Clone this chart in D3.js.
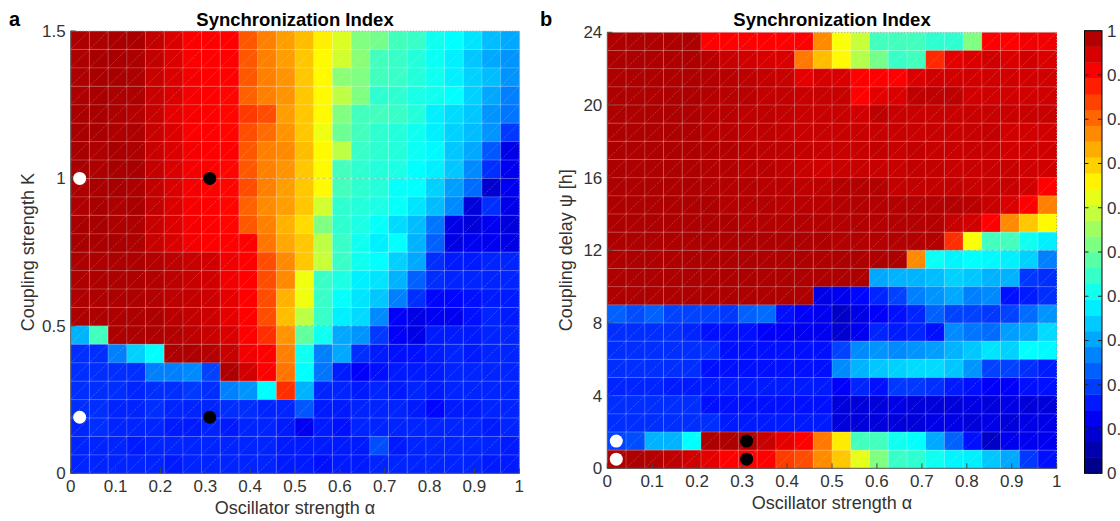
<!DOCTYPE html>
<html><head><meta charset="utf-8">
<script src="https://cdn.jsdelivr.net/npm/d3@7"></script>
<style>
body{margin:0;background:#fff;overflow:hidden}
svg{display:block;font-family:"Liberation Sans",Arial,Helvetica,sans-serif}
</style></head><body>
<svg id="chart" width="1120" height="521"></svg>
<script>
// ---- axis ticks ----
const alphaTicks = [0,0.1,0.2,0.3,0.4,0.5,0.6,0.7,0.8,0.9,1];
const alphaTickLabels = ["0","0.1","0.2","0.3","0.4","0.5","0.6","0.7","0.8","0.9","1"];
const kTicks = [0,0.5,1,1.5];
const kTickLabels = ["0","0.5","1","1.5"];
const psiTicks = [0,4,8,12,16,20,24];
const psiTickLabels = ["0","4","8","12","16","20","24"];
const cbTicks = [0,0.1,0.2,0.3,0.4,0.5,0.6,0.7,0.8,0.9,1];
const cbTickLabels = ["0","0.1","0.2","0.3","0.4","0.5","0.6","0.7","0.8","0.9","1"];

// ---- grid sizes ----
const nAlpha = 24;      // oscillator strength cells over [0, 1]
const kMax = 1.5, nK = 24;
const psiMax = 24, nPsi = 24;

// ---- panel a: synchronization index, rows from K = 1.5 (top) down to K = 0 ----
const syncA = [
 [0.955,0.955,0.96,0.96,0.935,0.91,0.88,0.875,0.875,0.79,0.75,0.72, 0.69,0.64,0.59,0.50,0.49,0.44,0.43,0.39,0.375,0.35,0.31,0.29],
 [0.955,0.96,0.96,0.955,0.935,0.91,0.88,0.875,0.875,0.79,0.75,0.72, 0.68,0.63,0.58,0.51,0.44,0.43,0.41,0.385,0.36,0.32,0.29,0.27],
 [0.955,0.96,0.96,0.955,0.93,0.91,0.885,0.875,0.875,0.79,0.75,0.73, 0.68,0.63,0.51,0.50,0.44,0.43,0.41,0.39,0.36,0.33,0.31,0.27],
 [0.955,0.96,0.955,0.955,0.93,0.91,0.885,0.875,0.87,0.78,0.75,0.73, 0.68,0.63,0.56,0.50,0.42,0.42,0.40,0.39,0.375,0.33,0.29,0.25],
 [0.96,0.96,0.955,0.95,0.93,0.90,0.885,0.875,0.87,0.82,0.80,0.72, 0.68,0.63,0.50,0.44,0.44,0.43,0.41,0.36,0.34,0.32,0.27,0.24],
 [0.96,0.96,0.955,0.955,0.93,0.91,0.88,0.875,0.87,0.80,0.77,0.73, 0.68,0.61,0.48,0.44,0.42,0.41,0.39,0.36,0.33,0.31,0.27,0.18],
 [0.96,0.955,0.96,0.955,0.93,0.91,0.885,0.875,0.875,0.79,0.75,0.74, 0.69,0.63,0.56,0.43,0.42,0.41,0.385,0.37,0.32,0.29,0.21,0.10],
 [0.96,0.955,0.96,0.96,0.935,0.91,0.885,0.875,0.87,0.79,0.75,0.73, 0.68,0.63,0.44,0.42,0.41,0.40,0.375,0.36,0.32,0.26,0.17,0.11],
 [0.955,0.96,0.96,0.955,0.935,0.91,0.885,0.875,0.87,0.80,0.75,0.72, 0.68,0.63,0.44,0.42,0.41,0.38,0.375,0.33,0.28,0.23,0.08,0.11],
 [0.955,0.96,0.955,0.96,0.935,0.91,0.885,0.875,0.87,0.78,0.74,0.72, 0.68,0.58,0.42,0.41,0.40,0.38,0.35,0.31,0.26,0.09,0.17,0.10],
 [0.96,0.96,0.955,0.955,0.93,0.91,0.885,0.875,0.87,0.79,0.75,0.70, 0.66,0.50,0.42,0.40,0.38,0.34,0.31,0.24,0.10,0.09,0.11,0.09],
 [0.96,0.96,0.96,0.955,0.93,0.91,0.885,0.875,0.875,0.875,0.76,0.71, 0.68,0.56,0.43,0.39,0.36,0.375,0.30,0.22,0.10,0.11,0.11,0.10],
 [0.955,0.955,0.955,0.955,0.95,0.94,0.93,0.92,0.89,0.875,0.80,0.74, 0.68,0.57,0.43,0.39,0.375,0.33,0.29,0.17,0.15,0.15,0.16,0.16],
 [0.955,0.955,0.955,0.955,0.95,0.94,0.93,0.92,0.89,0.875,0.80,0.74, 0.61,0.43,0.40,0.36,0.35,0.30,0.22,0.17,0.16,0.16,0.16,0.16],
 [0.955,0.955,0.955,0.955,0.95,0.94,0.935,0.925,0.90,0.875,0.80,0.70, 0.61,0.43,0.38,0.35,0.32,0.25,0.17,0.13,0.13,0.14,0.15,0.15],
 [0.955,0.955,0.955,0.955,0.955,0.945,0.935,0.925,0.90,0.875,0.80,0.69, 0.56,0.43,0.36,0.34,0.26,0.12,0.10,0.11,0.11,0.14,0.16,0.15],
 [0.30,0.44,0.955,0.955,0.955,0.95,0.94,0.93,0.91,0.875,0.83,0.73, 0.47,0.39,0.29,0.27,0.18,0.12,0.10,0.15,0.15,0.15,0.16,0.16],
 [0.17,0.17,0.25,0.33,0.375,0.955,0.955,0.95,0.93,0.89,0.875,0.75, 0.39,0.25,0.29,0.17,0.15,0.14,0.14,0.15,0.16,0.15,0.16,0.16],
 [0.17,0.17,0.17,0.17,0.25,0.25,0.26,0.19,0.955,0.92,0.875,0.76, 0.375,0.24,0.15,0.12,0.14,0.15,0.15,0.15,0.16,0.16,0.16,0.16],
 [0.17,0.17,0.17,0.16,0.17,0.17,0.18,0.17,0.25,0.27,0.375,0.83, 0.30,0.16,0.16,0.15,0.16,0.15,0.16,0.15,0.16,0.16,0.16,0.16],
 [0.17,0.17,0.16,0.16,0.17,0.16,0.16,0.16,0.17,0.17,0.16,0.16, 0.21,0.15,0.15,0.16,0.16,0.16,0.15,0.13,0.15,0.15,0.16,0.16],
 [0.16,0.17,0.16,0.16,0.16,0.15,0.15,0.16,0.15,0.16,0.16,0.15, 0.11,0.15,0.14,0.16,0.16,0.16,0.16,0.16,0.16,0.16,0.15,0.16],
 [0.16,0.16,0.16,0.15,0.16,0.16,0.16,0.16,0.16,0.16,0.16,0.15, 0.15,0.15,0.15,0.15,0.20,0.15,0.16,0.16,0.16,0.16,0.16,0.15],
 [0.16,0.16,0.16,0.16,0.16,0.15,0.16,0.16,0.16,0.16,0.16,0.15, 0.15,0.14,0.15,0.15,0.16,0.16,0.16,0.16,0.16,0.16,0.15,0.15]
];

// ---- panel b: synchronization index, rows from psi = 24 h (top) down to psi = 0 ----
const syncB = [
 [0.955,0.955,0.955,0.955,0.955,0.875,0.875,0.875,0.875,0.875,0.875,0.74, 0.62,0.57,0.44,0.44,0.44,0.42,0.42,0.50,0.875,0.875,0.89,0.89],
 [0.955,0.955,0.955,0.955,0.955,0.944,0.93,0.92,0.915,0.91,0.757,0.69, 0.63,0.55,0.49,0.43,0.44,0.836,0.90,0.91,0.92,0.91,0.92,0.91],
 [0.955,0.955,0.955,0.955,0.955,0.95,0.945,0.94,0.935,0.93,0.90,0.915, 0.91,0.875,0.875,0.875,0.91,0.92,0.92,0.92,0.92,0.92,0.92,0.92],
 [0.955,0.955,0.955,0.955,0.955,0.95,0.945,0.945,0.935,0.935,0.93,0.93, 0.93,0.875,0.90,0.91,0.94,0.94,0.94,0.92,0.92,0.92,0.92,0.92],
 [0.955,0.955,0.955,0.955,0.955,0.945,0.945,0.94,0.94,0.935,0.93,0.93, 0.93,0.92,0.94,0.93,0.93,0.93,0.93,0.93,0.93,0.93,0.93,0.93],
 [0.955,0.955,0.955,0.955,0.955,0.945,0.945,0.94,0.94,0.935,0.93,0.93, 0.93,0.93,0.93,0.93,0.93,0.93,0.93,0.93,0.935,0.92,0.92,0.92],
 [0.955,0.955,0.955,0.955,0.955,0.95,0.95,0.945,0.94,0.94,0.935,0.93, 0.93,0.93,0.935,0.93,0.935,0.93,0.93,0.93,0.93,0.92,0.92,0.92],
 [0.955,0.955,0.955,0.955,0.955,0.95,0.95,0.945,0.945,0.94,0.93,0.92, 0.93,0.93,0.93,0.93,0.935,0.935,0.93,0.93,0.93,0.93,0.92,0.92],
 [0.955,0.955,0.955,0.955,0.955,0.95,0.95,0.95,0.945,0.945,0.94,0.94, 0.95,0.95,0.95,0.935,0.935,0.935,0.935,0.93,0.93,0.93,0.92,0.875],
 [0.955,0.955,0.955,0.955,0.955,0.955,0.95,0.95,0.95,0.945,0.945,0.945, 0.95,0.95,0.95,0.95,0.95,0.95,0.95,0.945,0.93,0.91,0.875,0.75],
 [0.955,0.955,0.955,0.955,0.955,0.955,0.955,0.95,0.95,0.95,0.95,0.95, 0.95,0.95,0.95,0.95,0.95,0.95,0.93,0.92,0.875,0.74,0.68,0.63],
 [0.955,0.955,0.955,0.955,0.955,0.955,0.955,0.955,0.955,0.955,0.955,0.955, 0.95,0.95,0.95,0.95,0.95,0.95,0.83,0.62,0.44,0.44,0.39,0.36],
 [0.955,0.955,0.955,0.955,0.955,0.955,0.955,0.955,0.955,0.955,0.955,0.955, 0.955,0.955,0.955,0.955,0.74,0.385,0.365,0.375,0.37,0.36,0.33,0.25],
 [0.955,0.955,0.955,0.955,0.955,0.955,0.955,0.955,0.955,0.955,0.955,0.955, 0.955,0.955,0.29,0.30,0.30,0.31,0.33,0.32,0.30,0.30,0.18,0.17],
 [0.955,0.955,0.955,0.955,0.955,0.955,0.955,0.955,0.955,0.955,0.955,0.10, 0.11,0.13,0.16,0.19,0.25,0.27,0.29,0.25,0.26,0.14,0.15,0.17],
 [0.22,0.20,0.22,0.19,0.19,0.19,0.18,0.22,0.23,0.14,0.12,0.11, 0.07,0.10,0.12,0.14,0.16,0.22,0.19,0.19,0.18,0.19,0.23,0.27],
 [0.17,0.17,0.17,0.17,0.16,0.14,0.14,0.14,0.12,0.12,0.11,0.11, 0.08,0.11,0.16,0.15,0.16,0.14,0.26,0.24,0.23,0.28,0.29,0.34],
 [0.17,0.17,0.17,0.17,0.17,0.17,0.14,0.14,0.14,0.14,0.14,0.14, 0.19,0.26,0.27,0.26,0.27,0.28,0.30,0.32,0.35,0.33,0.375,0.37],
 [0.17,0.17,0.17,0.17,0.17,0.14,0.14,0.14,0.14,0.14,0.14,0.14, 0.26,0.30,0.32,0.33,0.34,0.34,0.32,0.27,0.19,0.19,0.17,0.15],
 [0.16,0.16,0.16,0.15,0.15,0.15,0.15,0.15,0.15,0.15,0.15,0.15, 0.12,0.16,0.14,0.18,0.18,0.17,0.15,0.14,0.12,0.12,0.14,0.14],
 [0.17,0.17,0.17,0.17,0.17,0.14,0.14,0.14,0.14,0.14,0.14,0.14, 0.09,0.09,0.09,0.10,0.09,0.09,0.09,0.10,0.09,0.10,0.09,0.09],
 [0.17,0.17,0.17,0.17,0.17,0.17,0.15,0.15,0.15,0.15,0.15,0.15, 0.09,0.09,0.09,0.09,0.09,0.10,0.10,0.09,0.10,0.09,0.10,0.10],
 [0.19,0.20,0.30,0.30,0.375,0.955,0.955,0.955,0.93,0.90,0.875,0.757, 0.645,0.44,0.44,0.39,0.375,0.29,0.22,0.14,0.07,0.11,0.11,0.11],
 [0.955,0.955,0.95,0.94,0.92,0.90,0.875,0.875,0.875,0.816,0.80,0.738, 0.68,0.60,0.50,0.43,0.42,0.39,0.365,0.36,0.32,0.29,0.18,0.14]
];

// ---- highlighted parameter points ----
const markerAlpha = [0.02, 0.31, 0.02, 0.31];
const markerK     = [1.0, 1.0, 0.19, 0.19];
const markerPsi   = [1.5, 1.5, 0.5, 0.5];
const markerFill  = ["#ffffff", "#000000", "#ffffff", "#000000"];

// MATLAB-style jet colormap
function jet(v) {
  v = Math.max(0, Math.min(1, v));
  const ch = c => Math.round(255 * Math.max(0, Math.min(1, 1.5 - Math.abs(4 * v - c))));
  return `rgb(${ch(3)},${ch(2)},${ch(1)})`;
}

const svg = d3.select("#chart");
const FONT = "'Liberation Sans', Arial, Helvetica, sans-serif";

function drawPanel(opts) {
  const { rows, left, right, top, bottom, yMax, nRows, yTicks, yTickLabels,
          markerY, title, letter, letterX, yLabel, yLabelX } = opts;
  const x = d3.scaleLinear().domain([0, 1]).range([left, right]);
  const y = d3.scaleLinear().domain([0, yMax]).range([bottom, top]);
  const g = svg.append("g");

  const cells = [];
  rows.forEach((row, t) => row.forEach((v, c) => {
    cells.push({
      a0: c / nAlpha, a1: (c + 1) / nAlpha,
      y1: yMax - t * yMax / nRows, y0: yMax - (t + 1) * yMax / nRows,
      v
    });
  }));

  // flat-coloured cells with faint white facet edges
  g.append("g").selectAll("rect").data(cells).join("rect")
    .attr("x", d => x(d.a0)).attr("y", d => y(d.y1))
    .attr("width", d => x(d.a1) - x(d.a0) + 0.3)
    .attr("height", d => y(d.y0) - y(d.y1) + 0.3)
    .attr("fill", d => jet(d.v));

  // mesh lines: cell borders and triangle diagonals
  const mesh = g.append("g").attr("fill", "none");
  mesh.selectAll("path.edge").data(cells).join("path")
    .attr("class", "edge")
    .attr("d", d => `M${x(d.a0)},${y(d.y0)}V${y(d.y1)}H${x(d.a1)}`)
    .attr("stroke", "rgba(255,255,255,0.28)").attr("stroke-width", 0.9);
  mesh.selectAll("path.diag").data(cells).join("path")
    .attr("class", "diag")
    .attr("d", d => `M${x(d.a0)},${y(d.y0)}L${x(d.a1)},${y(d.y1)}`)
    .attr("stroke", "rgba(255,255,255,0.38)").attr("stroke-width", 0.7)
    .attr("stroke-dasharray", "1.2,1.2");

  // dashed grid lines at the ticks
  const grid = g.append("g").attr("stroke", "rgba(90,90,90,0.35)")
    .attr("stroke-dasharray", "3,3").attr("stroke-width", 0.8);
  grid.selectAll("line.h").data(yTicks.slice(1, -1)).join("line")
    .attr("x1", left).attr("x2", right).attr("y1", d => y(d)).attr("y2", d => y(d));

  // frame: solid left/bottom axes, dotted top/right
  g.append("path").attr("d", `M${left},${top}H${right}V${bottom}`)
    .attr("fill", "none").attr("stroke", "#9a9a9a").attr("stroke-width", 1)
    .attr("stroke-dasharray", "1,2");
  g.append("path").attr("d", `M${left},${top}V${bottom}H${right}`)
    .attr("fill", "none").attr("stroke", "#555").attr("stroke-width", 1);

  // ticks pointing inward
  g.append("g").selectAll("line").data(yTicks).join("line")
    .attr("x1", left).attr("x2", left + 5).attr("y1", d => y(d)).attr("y2", d => y(d))
    .attr("stroke", "#444");
  g.append("g").selectAll("line").data(alphaTicks).join("line")
    .attr("x1", d => x(d)).attr("x2", d => x(d)).attr("y1", bottom).attr("y2", bottom - 5)
    .attr("stroke", "#444");

  // tick labels
  g.append("g").selectAll("text").data(yTicks).join("text")
    .attr("x", left - 5).attr("y", d => y(d)).attr("dy", "0.35em")
    .attr("text-anchor", "end").attr("font-size", 17).attr("fill", "#333")
    .attr("font-family", FONT)
    .text((d, i) => yTickLabels[i]);
  g.append("g").selectAll("text").data(alphaTicks).join("text")
    .attr("x", d => x(d)).attr("y", bottom + 19)
    .attr("text-anchor", "middle").attr("font-size", 17).attr("fill", "#333")
    .attr("font-family", FONT)
    .text((d, i) => alphaTickLabels[i]);

  // markers
  g.append("g").selectAll("circle").data(markerAlpha).join("circle")
    .attr("cx", d => x(d)).attr("cy", (d, i) => y(markerY[i]))
    .attr("r", 6.5).attr("fill", (d, i) => markerFill[i]);

  // titles and axis labels
  svg.append("text").attr("x", (left + right) / 2).attr("y", 26)
    .attr("text-anchor", "middle").attr("font-size", 18.5).attr("font-weight", "bold")
    .attr("font-family", FONT).attr("fill", "#000").text(title);
  svg.append("text").attr("x", letterX).attr("y", 26)
    .attr("font-size", 20).attr("font-weight", "bold")
    .attr("font-family", FONT).attr("fill", "#000").text(letter);
  svg.append("text").attr("x", (left + right) / 2).attr("y", bottom + 41)
    .attr("text-anchor", "middle").attr("font-size", 18)
    .attr("font-family", FONT).attr("fill", "#333").text("Oscillator strength α");
  svg.append("text")
    .attr("transform", `translate(${yLabelX},${(top + bottom) / 2}) rotate(-90)`)
    .attr("text-anchor", "middle").attr("font-size", 18)
    .attr("font-family", FONT).attr("fill", "#333").text(yLabel);
}

drawPanel({
  rows: syncA, left: 70.7, right: 519.3, top: 31, bottom: 473.3,
  yMax: kMax, nRows: nK, yTicks: kTicks, yTickLabels: kTickLabels,
  markerY: markerK, title: "Synchronization Index", letter: "a", letterX: 9,
  yLabel: "Coupling strength K", yLabelX: 34
});
drawPanel({
  rows: syncB, left: 607.3, right: 1056.7, top: 32.3, bottom: 468.3,
  yMax: psiMax, nRows: nPsi, yTicks: psiTicks, yTickLabels: psiTickLabels,
  markerY: markerPsi, title: "Synchronization Index", letter: "b", letterX: 540,
  yLabel: "Coupling delay  ψ [h]", yLabelX: 572
});

// ---- colorbar ----
const cbLevels = 28;
const cbTop = 30.7, cbBottom = 473.3, cbLeft = 1084.5, cbWidth = 17.5;
const cbY = d3.scaleLinear().domain([0, 1]).range([cbBottom, cbTop]);
const cbSteps = d3.range(cbLevels);
const cb = svg.append("g");
cb.selectAll("rect").data(cbSteps).join("rect")
  .attr("x", cbLeft).attr("width", cbWidth)
  .attr("y", k => cbY((k + 1) / cbLevels))
  .attr("height", k => cbY(k / cbLevels) - cbY((k + 1) / cbLevels) + 0.4)
  .attr("fill", k => jet(0.01 + k * 0.94 / (cbLevels - 1)));
cb.append("rect").attr("x", cbLeft).attr("y", cbTop).attr("width", cbWidth)
  .attr("height", cbBottom - cbTop).attr("fill", "none").attr("stroke", "#000");
cb.selectAll("path.tick").data(cbTicks).join("path").attr("class", "tick")
  .attr("d", d => `M${cbLeft},${cbY(d)}h4M${cbLeft + cbWidth},${cbY(d)}h-4`)
  .attr("stroke", "#222");
cb.selectAll("text").data(cbTicks).join("text")
  .attr("x", cbLeft + cbWidth + 5).attr("y", d => cbY(d)).attr("dy", "0.35em")
  .attr("font-size", 17).attr("font-family", FONT).attr("fill", "#333")
  .text((d, i) => cbTickLabels[i]);
</script>
</body></html>
